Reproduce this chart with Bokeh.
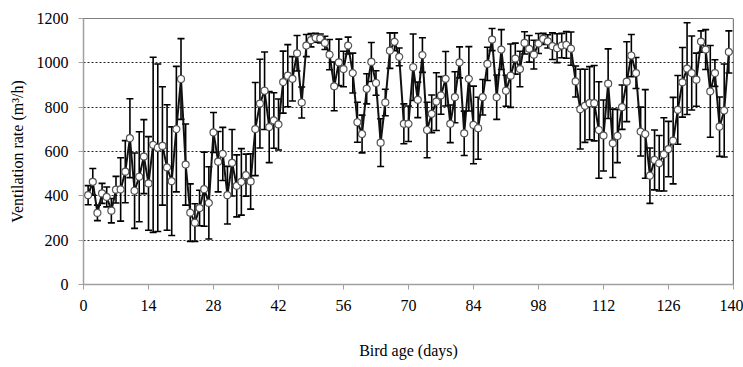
from bokeh.plotting import figure
from bokeh.models import ColumnDataSource, Whisker, TeeHead, Range1d, FixedTicker, Span
from bokeh.embed import file_html
from bokeh.resources import INLINE

days = list(range(1, 140))

ventilation = [
    403, 463, 323, 411, 395, 333, 428, 429, 509, 660,
    423, 486, 577, 456, 630, 617, 625, 528, 466, 701,
    927, 541, 324, 279, 345, 430, 368, 686, 554, 589,
    403, 549, 445, 463, 493, 465, 701, 816, 874, 710,
    740, 722, 913, 942, 928, 1043, 821, 1078, 1102, 1113,
    1110, 1090, 1037, 894, 1002, 972, 1078, 954, 732, 679,
    883, 1004, 909, 640, 821, 1055, 1095, 1027, 725, 725,
    980, 833, 1035, 697, 770, 825, 853, 928, 725, 845,
    1002, 682, 928, 720, 705, 845, 995, 1105, 845, 1060,
    874, 942, 1019, 972, 1090, 1063, 1037, 1087, 1108, 1097,
    1075, 1066, 1078, 1081, 1064, 916, 791, 806, 818, 818,
    697, 672, 906, 637, 670, 800, 915, 1033, 954, 690,
    679, 491, 562, 547, 587, 611, 649, 788, 912, 974,
    954, 924, 1096, 1060, 871, 954, 712, 785, 1049,
]

std_dev = [
    43, 60, 35, 45, 45, 55, 60, 143, 140, 178,
    170, 203, 167, 211, 395, 378, 267, 283, 245, 283,
    182, 183, 130, 85, 80, 167, 163, 90, 136, 120,
    130, 150, 140, 150, 95, 125, 210, 200, 175, 160,
    125, 115, 140, 140, 100, 80, 70, 50, 30, 20,
    20, 30, 68, 110, 105, 80, 38, 90, 90, 85,
    68, 88, 55, 108, 60, 80, 40, 40, 90, 80,
    150, 80, 78, 125, 85, 130, 85, 123, 85, 115,
    70, 100, 145, 175, 140, 80, 75, 50, 100, 90,
    70, 143, 70, 80, 50, 60, 65, 45, 25, 30,
    60, 65, 55, 60, 75, 70, 180, 165, 165, 170,
    218, 160, 157, 154, 120, 100, 180, 95, 70, 110,
    200, 125, 135, 125, 165, 125, 195, 155, 157, 207,
    167, 120, 48, 90, 207, 60, 134, 210, 95,
]

x_ticks = [0, 14, 28, 42, 56, 70, 84, 98, 112, 126, 140]
y_ticks = [0, 200, 400, 600, 800, 1000, 1200]
grid_ticks = [200, 400, 600, 800, 1000]

upper = [v + s for v, s in zip(ventilation, std_dev)]
lower = [v - s for v, s in zip(ventilation, std_dev)]

source = ColumnDataSource(data=dict(day=days, vent=ventilation, upper=upper, lower=lower))

FONT = "Liberation Serif"

p = figure(width=743, height=367, output_backend="svg", toolbar_location=None,
           x_range=Range1d(0, 140), y_range=Range1d(0, 1200),
           min_border_left=83, min_border_right=10, min_border_top=18, min_border_bottom=83)
p.outline_line_color = None
p.background_fill_color = "white"
p.border_fill_color = "white"

# grid
p.xgrid.visible = False
p.ygrid.ticker = FixedTicker(ticks=grid_ticks)
p.ygrid.grid_line_color = "#222222"
p.ygrid.grid_line_dash = "2 2"
p.ygrid.grid_line_width = 1

# axes
p.xaxis.ticker = FixedTicker(ticks=x_ticks)
p.yaxis.ticker = FixedTicker(ticks=y_ticks)
for ax in (p.xaxis[0], p.yaxis[0]):
    ax.axis_line_color = "#a0a0a0"
    ax.axis_line_width = 1.5
    ax.major_tick_line_color = "#a0a0a0"
    ax.major_tick_in = 0
    ax.major_tick_out = 5
    ax.minor_tick_line_color = None
    ax.major_label_text_font = FONT
    ax.major_label_text_font_size = "16px"
    ax.major_label_text_color = "black"
    ax.axis_label_text_font = FONT
    ax.axis_label_text_font_size = "16px"
    ax.axis_label_text_font_style = "normal"
    ax.axis_label_text_color = "black"

p.xaxis.axis_label = "Bird age (days)"
p.xaxis.major_label_standoff = 10
p.xaxis.axis_label_standoff = 28
p.yaxis.axis_label = "Ventilation rate (m³/h)"
p.yaxis.major_label_standoff = 10
p.yaxis.axis_label_standoff = 8

# top and right border
p.add_layout(Span(location=1200, dimension="width", line_color="black", line_width=1.2))
p.add_layout(Span(location=140, dimension="height", line_color="black", line_width=1.2))

# error bars
whisk = Whisker(base="day", upper="upper", lower="lower", source=source,
                line_color="black", line_width=1.6,
                upper_head=TeeHead(size=7, line_color="black", line_width=1.6),
                lower_head=TeeHead(size=7, line_color="black", line_width=1.6))
p.add_layout(whisk)

p.line("day", "vent", source=source, line_color="#111111", line_width=2)
p.scatter("day", "vent", source=source, size=7, fill_color="white",
          line_color="#555555", line_width=1.2)

open("out.html", "w").write(file_html(p, INLINE))
